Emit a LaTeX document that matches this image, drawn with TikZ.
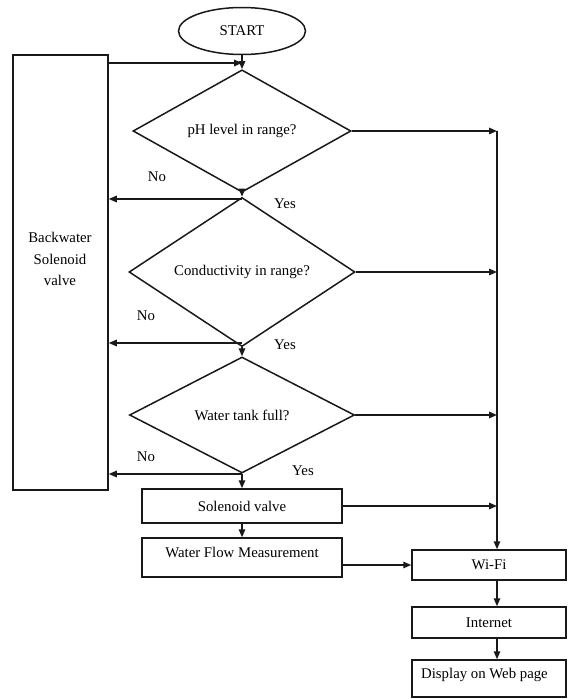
\documentclass[tikz,border=0pt]{standalone}
\usepackage{fontspec}
\setmainfont{Liberation Serif}
\usetikzlibrary{shapes.geometric,arrows.meta}
\begin{document}
\begin{tikzpicture}[x=1pt,y=-1pt,
  every node/.style={font=\fontsize{14.8}{21.5}\selectfont},
  line/.style={line width=1.5pt, draw=black!90},
  arr/.style={line, -{Triangle[length=8pt,width=6.5pt]}},
  box/.style={draw=black!90, line width=1.5pt, rectangle, inner sep=0pt},
  dec/.style={draw=black!90, line width=1.5pt, diamond, inner sep=0pt},
]
\useasboundingbox (0,0) rectangle (568,699);

% nodes
\node[draw=black!90, ellipse, line width=1.5pt, minimum width=127pt, minimum height=47pt, inner sep=0pt] (start) at (242,31) {START};
\node[box, minimum width=95pt, minimum height=435pt] (back) at (60.5,272.5) {};
\node[align=center] (backtxt) at (60,259) {Backwater\\Solenoid\\valve};
\node[dec, minimum width=218pt, minimum height=120pt] (d1) at (242,131) {pH level in range?};
\node[dec, minimum width=226pt, minimum height=124pt] (d2) at (242,272) {Conductivity in range?};
\node[dec, minimum width=225pt, minimum height=116pt] (d3) at (242,415) {Water tank full?};
\node[box, minimum width=200pt, minimum height=34pt] (sol) at (242,506) {Solenoid valve};
\node[box, minimum width=200pt, minimum height=39pt, text height=10pt, text depth=11pt] (wf) at (242,557.5) {Water Flow Measurement};
\node[box, minimum width=154pt, minimum height=30pt] (wifi) at (489,565) {Wi-Fi};
\node[box, minimum width=154pt, minimum height=31pt] (inet) at (489,622.5) {Internet};
\node[box, minimum width=154pt, minimum height=37pt, text height=10pt, text depth=11pt] (disp) at (489,678.5) {Display on Web page\hspace*{9pt}};

% labels
\node (no1) at (157,177) {No};
\node (yes1) at (285,204) {Yes};
\node (no2) at (146,316) {No};
\node (yes2) at (285,345) {Yes};
\node (no3) at (146,457) {No};
\node (yes3) at (303,471) {Yes};

% junctions
\coordinate (j0) at (242,63);
\coordinate (j1) at (242,199);
\coordinate (j2) at (242,343);
\coordinate (j3) at (242,474);
\coordinate (rtop) at (497,131);

% connectors
\draw[arr] (start) -- (d1);
\draw[arr] (back.east |- j0) -- (j0);
\draw[arr] (d1) -- (d2);
\draw[arr] (j1) -- (back.east |- j1);
\draw[arr] (d2) -- (d3);
\draw[arr] (j2) -- (back.east |- j2);
\draw[arr] (d3) -- (sol);
\draw[arr] (j3) -- (back.east |- j3);
\draw[arr] (sol) -- (wf);
\draw[arr] (d1.east) -- (rtop);
\draw[arr] (d2.east) -- (rtop |- d2.east);
\draw[arr] (d3.east) -- (rtop |- d3.east);
\draw[arr] (sol.east) -- (rtop |- sol.east);
\draw[arr] (rtop) -- (rtop |- wifi.north);
\draw[arr] (wf.east |- wifi.west) -- (wifi.west);
\draw[arr] (rtop |- wifi.south) -- (rtop |- inet.north);
\draw[arr] (rtop |- inet.south) -- (rtop |- disp.north);
\end{tikzpicture}
\end{document}
